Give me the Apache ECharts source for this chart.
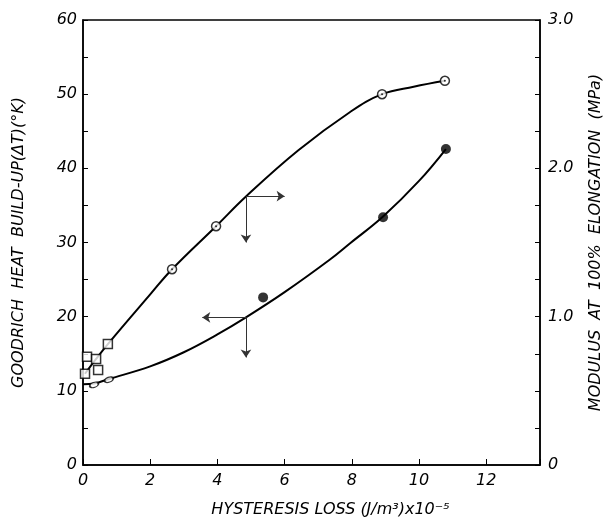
<!doctype html>
<html lang="en">
<head>
  <meta charset="UTF-8">
  <script src="https://cdn.jsdelivr.net/npm/echarts@6/dist/echarts.min.js"></script>
  <title>Hysteresis loss</title>
  <style type="text/css">
    html, body { width: 100%; height: 100%; margin: 0; padding: 0; background: #fff; }
    #canvas { width: 616px; height: 527px; }
  </style>
</head>
<body>
<div id="canvas"></div>

<script type="text/javascript">
  // values: x = hysteresis loss (J/m3 x10^-5)
  const xTicks = [0, 2, 4, 6, 8, 10, 12]
  const heatTicks = [0, 10, 20, 30, 40, 50, 60]
  const modulusTicks = [0, 1, 2, 3]

  // modulus at 100% elongation (MPa), right axis
  const modulusSquares = [[0.06, 0.615], [0.12, 0.73], [0.39, 0.715], [0.45, 0.64], [0.74, 0.815]]
  const modulusCircles = [[2.65, 1.32], [3.96, 1.61], [8.9, 2.5], [10.77, 2.59]]
  const modulusCurve = [[0.06, 0.615], [0.39, 0.715], [0.74, 0.815], [2.0, 1.15], [2.65, 1.32],
    [3.96, 1.61], [4.85, 1.81], [6.4, 2.12], [7.95, 2.38], [8.9, 2.5], [9.84, 2.55], [10.77, 2.59]]

  // goodrich heat build-up (K), left axis
  const heatDots = [[5.36, 22.6], [8.93, 33.4], [10.8, 42.6]]
  const heatOpen = [[0.33, 10.8], [0.77, 11.5]]
  const heatCurve = [[0, 10.9], [0.33, 11.0], [0.77, 11.6], [2.0, 13.3], [3.0, 15.2], [4.0, 17.6],
    [4.85, 19.9], [6.0, 23.3], [7.35, 27.7], [7.95, 29.9], [8.93, 33.5], [10.0, 38.3], [10.8, 42.6]]

  // arrows pointing to the axis each curve belongs to (left axis units)
  const arrows = [
    [[4.85, 36.25], [6.0, 36.25]],
    [[4.85, 36.25], [4.85, 30.0]],
    [[4.85, 19.9], [3.55, 19.9]],
    [[4.85, 19.9], [4.85, 14.5]],
  ]

  const font = 'DejaVu Sans'
  const labelStyle = { fontFamily: font, fontStyle: 'italic', fontSize: 16, color: '#000' }
  const nameStyle = { fontFamily: font, fontStyle: 'italic', fontSize: 16, color: '#000' }

  const chart = echarts.init(document.getElementById('canvas'))

  chart.setOption({
    animation: false,
    grid: {
      left: 83, right: 76, top: 20, bottom: 62,
      show: true, borderColor: '#000', borderWidth: 1.5,
    },
    xAxis: {
      type: 'value',
      min: xTicks[0],
      max: 13.6,
      interval: 2,
      name: 'HYSTERESIS LOSS (J/m³)x10⁻⁵',
      nameLocation: 'middle',
      nameGap: 37,
      nameTextStyle: Object.assign({}, nameStyle, { padding: [0, 0, 0, 38] }),
      axisLine: { show: true, lineStyle: { color: '#000', width: 1.5 } },
      axisTick: { show: true, inside: true, length: 6, lineStyle: { color: '#000' } },
      axisLabel: Object.assign({}, labelStyle, {
        margin: 8,
        formatter: v => xTicks.indexOf(v) >= 0 ? String(v) : ''
      }),
      splitLine: { show: false },
    },
    yAxis: [
      {
        type: 'value',
        min: heatTicks[0],
        max: heatTicks[heatTicks.length - 1],
        interval: 10,
        position: 'left',
        name: 'GOODRICH  HEAT  BUILD-UP(ΔT)(°K)',
        nameLocation: 'middle',
        nameRotate: 90,
        nameGap: 56,
        nameTextStyle: nameStyle,
        axisLine: { show: true, lineStyle: { color: '#000', width: 1.5 } },
        axisTick: { show: true, inside: true, length: 5, lineStyle: { color: '#000' } },
        minorTick: { show: true, splitNumber: 2, length: 5, lineStyle: { color: '#000' } },
        axisLabel: Object.assign({}, labelStyle, { margin: 6 }),
        splitLine: { show: false },
      },
      {
        type: 'value',
        min: modulusTicks[0],
        max: modulusTicks[modulusTicks.length - 1],
        interval: 1,
        position: 'right',
        name: 'MODULUS  AT  100%  ELONGATION  (MPa)',
        nameLocation: 'middle',
        nameRotate: 90,
        nameGap: 48,
        nameTextStyle: nameStyle,
        axisLine: { show: true, lineStyle: { color: '#000', width: 1.5 } },
        axisTick: { show: true, inside: true, length: 5, lineStyle: { color: '#000' } },
        minorTick: { show: true, splitNumber: 4, length: 5, lineStyle: { color: '#000' } },
        axisLabel: Object.assign({}, labelStyle, {
          margin: 8,
          formatter: v => v === 0 ? '0' : v.toFixed(1)
        }),
        splitLine: { show: false },
      }
    ],
    series: [
      {
        type: 'line',
        yAxisIndex: 1,
        data: modulusCurve,
        smooth: 0.4,
        showSymbol: false,
        lineStyle: { color: '#000', width: 2 },
        z: 2,
      },
      {
        type: 'line',
        yAxisIndex: 0,
        data: heatCurve,
        smooth: 0.4,
        showSymbol: false,
        lineStyle: { color: '#000', width: 2 },
        z: 2,
        markLine: {
          silent: true,
          symbol: ['none', 'arrow'],
          symbolSize: 8,
          label: { show: false },
          lineStyle: { color: '#333', width: 1, type: 'solid' },
          data: arrows.map(a => [{ coord: a[0] }, { coord: a[1] }]),
        },
      },
      {
        type: 'scatter',
        yAxisIndex: 1,
        data: modulusSquares,
        symbol: 'rect',
        symbolSize: 9,
        itemStyle: { color: '#fff', borderColor: '#000', borderWidth: 1.5 },
        z: 4,
      },
      {
        type: 'scatter',
        yAxisIndex: 1,
        data: modulusCircles,
        symbol: 'circle',
        symbolSize: 9,
        itemStyle: { color: '#fff', borderColor: '#000', borderWidth: 1.5 },
        z: 4,
      },
      {
        type: 'scatter',
        yAxisIndex: 1,
        data: modulusCircles,
        symbol: 'circle',
        symbolSize: 2,
        itemStyle: { color: '#000' },
        z: 5,
      },
      {
        type: 'scatter',
        yAxisIndex: 0,
        data: heatDots,
        symbol: 'circle',
        symbolSize: 10,
        itemStyle: { color: '#000' },
        z: 4,
      },
      {
        type: 'scatter',
        yAxisIndex: 0,
        data: heatOpen,
        symbol: 'circle',
        symbolSize: [9, 5],
        symbolRotate: 20,
        itemStyle: { color: '#fff', borderColor: '#000', borderWidth: 1.5 },
        z: 4,
      },
    ]
  })
</script>
</body>
</html>
